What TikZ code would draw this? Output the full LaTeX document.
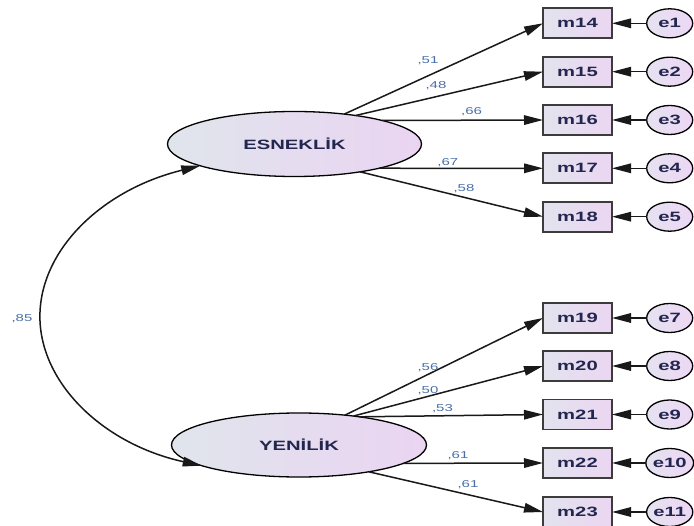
\documentclass[tikz,border=0pt]{standalone}
\usepackage{fontspec}
\usetikzlibrary{shapes.geometric,arrows.meta}
\newfontfamily\amosfont[FakeStretch=1.5]{Liberation Sans}
\definecolor{latL}{HTML}{E0E5EC}
\definecolor{latR}{HTML}{EAD4F2}
\definecolor{boxL}{HTML}{E3E3EE}
\definecolor{boxR}{HTML}{EBD6F2}
\definecolor{errL}{HTML}{E5E2F0}
\definecolor{errR}{HTML}{EDD7F5}
\definecolor{boxD}{HTML}{3C3C3C}
\definecolor{txtC}{HTML}{23264F}
\definecolor{lblC}{HTML}{4A6FA8}
\tikzset{
  latent/.style={ellipse, draw=black, line width=1.3pt, left color=latL, right color=latR,
    minimum width=254pt, minimum height=65pt, inner sep=0pt, outer sep=0pt,
    font=\amosfont\bfseries\fontsize{13.5}{14}\selectfont, text=txtC},
  obs/.style={rectangle, draw=boxD, line width=1.7pt, left color=boxL, right color=boxR,
    minimum width=69pt, minimum height=30pt, inner sep=0pt, outer sep=0pt,
    font=\amosfont\bfseries\fontsize{13.5}{14}\selectfont, text=txtC},
  err/.style={ellipse, draw=black, line width=1.3pt, left color=errL, right color=errR,
    minimum width=46pt, minimum height=29pt, inner sep=0pt, outer sep=0pt,
    font=\amosfont\bfseries\fontsize{13.5}{14}\selectfont, text=txtC},
  load/.style={line width=1.5pt, draw=black!90, -{Triangle[length=19pt,width=9.5pt]}},
  cov/.style={line width=1.5pt, draw=black!90, {Triangle[length=19pt,width=9.5pt]}-{Triangle[length=19pt,width=9.5pt]}},
  lbl/.style={font=\amosfont\fontsize{10}{10}\selectfont, text=lblC, inner sep=0pt},
}
\begin{document}
\begin{tikzpicture}[x=1pt,y=-1pt]
\fill[white] (0,0) rectangle (694,526);
\useasboundingbox (0,0) rectangle (694,526);

% latent variables
\node[latent] (E) at (294.5,144) {ESNEKLİK};
\node[latent, minimum width=255pt, minimum height=64pt] (Y) at (299,445) {YENİLİK};

% observed variables, top group
\node[obs] (m14) at (577.5,23.3) {m14};
\node[obs] (m15) at (577.5,71.7) {m15};
\node[obs] (m16) at (577.5,120) {m16};
\node[obs] (m17) at (577.5,168.3) {m17};
\node[obs] (m18) at (577.5,216.7) {m18};
% observed variables, bottom group
\node[obs] (m19) at (577.5,318) {m19};
\node[obs] (m20) at (577.5,366) {m20};
\node[obs] (m21) at (577.5,414.5) {m21};
\node[obs] (m22) at (577.5,463) {m22};
\node[obs] (m23) at (577.5,512) {m23};

% error terms
\node[err] (e1) at (669.7,23.3) {e1};
\node[err] (e2) at (669.7,71.7) {e2};
\node[err] (e3) at (669.7,120) {e3};
\node[err] (e4) at (669.7,168.3) {e4};
\node[err] (e5) at (669.7,216.7) {e5};
\node[err] (e7) at (669.7,318) {e7};
\node[err] (e8) at (669.7,366) {e8};
\node[err] (e9) at (669.7,414.5) {e9};
\node[err] (e10) at (669.7,463) {e10};
\node[err] (e11) at (669.7,512) {e11};

% error arrows
\foreach \e/\m in {e1/m14,e2/m15,e3/m16,e4/m17,e5/m18,e7/m19,e8/m20,e9/m21,e10/m22,e11/m23}
  \draw[load] (\e.west) -- (\m.east);

% loadings
\draw[load] (E.31) -- (m14.west);
\draw[load] (E.25.3) -- (m15.west);
\draw[load] (E.15.7) -- (m16.west);
\draw[load] (E.-16.1) -- (m17.west);
\draw[load] (E.-23.9) -- (m18.west);

\draw[load] (Y.33) -- (m19.west);
\draw[load] (Y.28.6) -- (m20.west);
\draw[load] (Y.25.6) -- (m21.west);
\draw[load] (Y.-10.5) -- (m22.west);
\draw[load] (Y.-21.6) -- (m23.west);

% covariance
\coordinate (cm) at (39.9,316.5);
\draw[cov] (E.193) .. controls (102.5,189.6) and (39.9,249.5) .. (cm)
  .. controls (39.9,383.5) and (103.7,444.3) .. (Y.192);

% labels
\node[lbl] (l14) at (428,61) {,51};
\node[lbl] (l15) at (436,86) {,48};
\node[lbl] (l16) at (471.6,111.7) {,66};
\node[lbl] (l17) at (447.8,162.3) {,67};
\node[lbl] (l18) at (464,188.3) {,58};
\node[lbl] (l19) at (428,367.7) {,56};
\node[lbl] (l20) at (428,391) {,50};
\node[lbl] (l21) at (442.5,408.3) {,53};
\node[lbl] (l22) at (458,456) {,61};
\node[lbl] (l23) at (468,484.3) {,61};
\node[lbl] (lcov) at (22,319) {,85};
\end{tikzpicture}
\end{document}
